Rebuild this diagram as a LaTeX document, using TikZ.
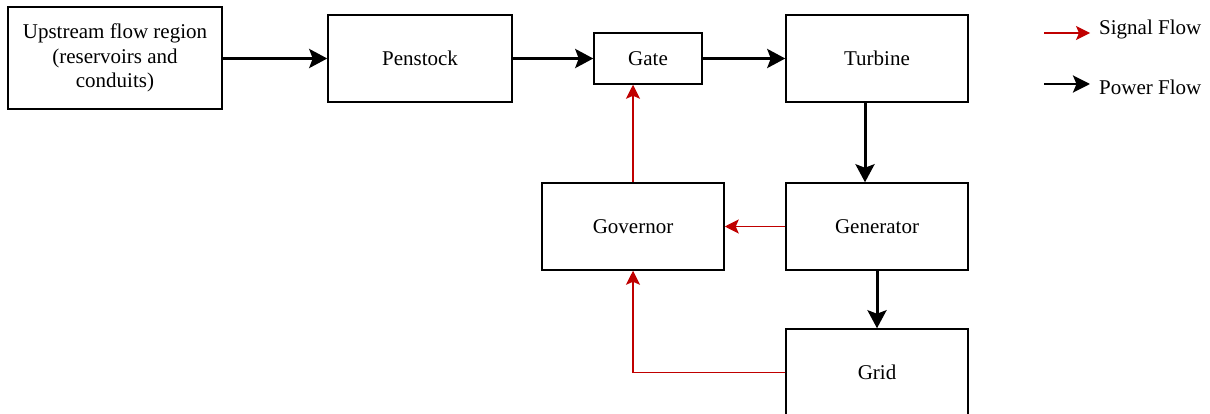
\documentclass[tikz,border=0pt]{standalone}
\usepackage{fontspec}
\setmainfont{Liberation Serif}
\usetikzlibrary{arrows.meta}
\definecolor{sigred}{HTML}{C00000}
\begin{document}
\begin{tikzpicture}[x=1pt,y=-1pt,
  block/.style={draw=black, line width=1.5pt, rectangle, inner sep=0pt, align=center,
    font=\fontsize{21}{24.5}\selectfont},
  power/.style={line width=3pt, -{Stealth[length=18pt,width=19pt,inset=3.5pt]}},
  signal/.style={draw=sigred, line width=1.5pt, -{Stealth[length=14pt,width=14pt,inset=3pt]}, color=sigred},
  legtext/.style={anchor=west, inner sep=0pt, font=\fontsize{21}{24}\selectfont}]
\clip (0,0) rectangle (1210,414);
\useasboundingbox (0,0) rectangle (1210,414);

% blocks
\node[block, minimum width=214pt, minimum height=102pt] (up) at (115,58)
  {Upstream flow region\\(reservoirs and\\conduits)};
\node[block, minimum width=184pt, minimum height=87pt] (pen) at (420,58.5) {Penstock};
\node[block, minimum width=108pt, minimum height=51pt] (gate) at (648,58.5) {Gate};
\node[block, minimum width=182pt, minimum height=87pt] (tur) at (877,58.5) {Turbine};
\node[block, minimum width=182pt, minimum height=87pt] (gov) at (633,226.5) {Governor};
\node[block, minimum width=182pt, minimum height=87pt] (gen) at (877,226.5) {Generator};
\node[block, minimum width=182pt, minimum height=87pt] (grid) at (877,372.5) {Grid};

% power flow
\draw[power] (pen.west -| up.east) -- (pen.west);
\draw[power] (pen.east) -- (gate.west);
\draw[power] (gate.east) -- (tur.west);
\draw[power] ([xshift=-12pt]tur.south) -- ([xshift=-12pt]gen.north);
\draw[power] (gen.south) -- (grid.north);

% signal flow
\draw[signal] (gov.north) -- (gov.north |- gate.south);
\draw[signal] (gen.west) -- (gov.east);
\draw[signal] (grid.west) -| (gov.south);

% legend
\coordinate (ls1) at (1044,33);
\coordinate (le1) at (1090,33);
\coordinate (ls2) at (1044,84);
\coordinate (le2) at (1090,84);
\draw[signal, line width=1.2pt] (ls1) -- (le1);
\draw[line width=2.8pt, -{Stealth[length=17pt,width=17pt,inset=3.5pt]}] (ls2) -- (le2);
\node[legtext] (sigl) at (1099,29) {Signal Flow};
\node[legtext] (powl) at (1099,87) {Power Flow};
\end{tikzpicture}
\end{document}
